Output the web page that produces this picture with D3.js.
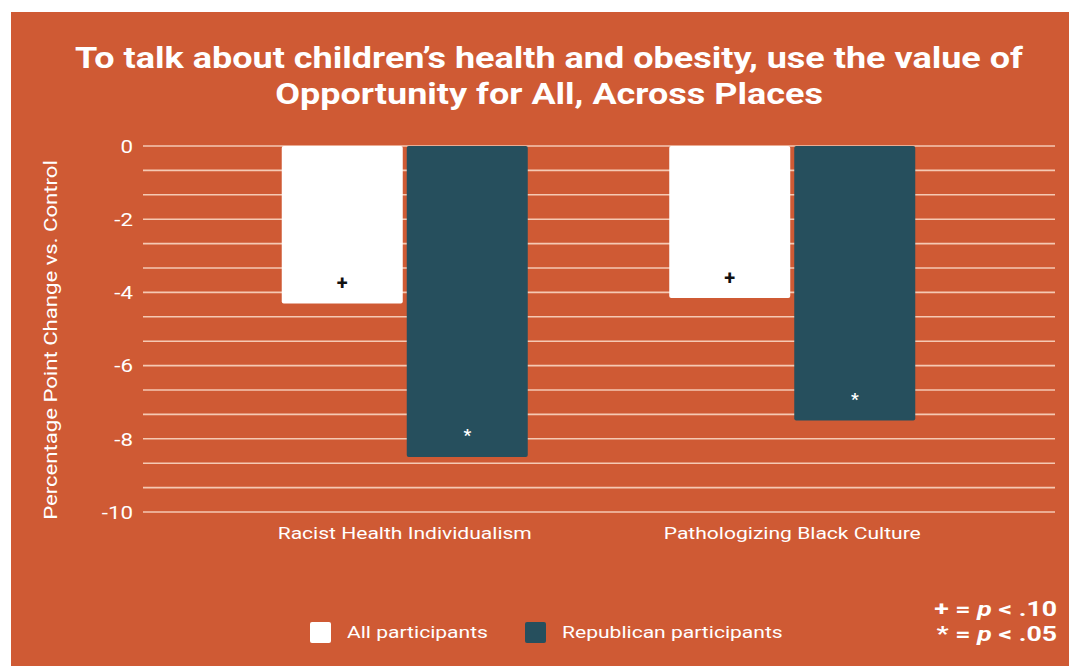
<!DOCTYPE html>
<html>
<head>
<meta charset="utf-8">
<script src="https://cdn.jsdelivr.net/npm/d3@7"></script>
<style>
  html, body { margin: 0; padding: 0; background: #ffffff; }
  svg { display: block; }
  text { font-family: Roboto, "Noto Sans", sans-serif; }
</style>
</head>
<body>
<svg id="chart" width="1069" height="666"></svg>
<script>
// Chart content
const titleLines = [
  "To talk about children\u2019s health and obesity, use the value of",
  "Opportunity for All, Across Places"
];
const categories = ["Racist Health Individualism", "Pathologizing Black Culture"];
const seriesNames = ["All participants", "Republican participants"];
const allParticipants = [-4.3, -4.15];
const republicanParticipants = [-8.5, -7.5];
const significanceMarks = [["+", "+"], ["*", "*"]];
const yTickValues = [0, -2, -4, -6, -8, -10];
const yAxisTitle = "Percentage Point Change vs. Control";
const noteLines = [["+ = ", "p", " < .10"], ["* = ", "p", " < .05"]];

const seriesValues = [allParticipants, republicanParticipants];
const colors = ["#ffffff", "#264f5d"];
const bg = "#cf5a34";
const gridColor = "#f5c9b3";
const wide = 1.24; // horizontal stretch applied to the text faces

const svg = d3.select("#chart");

// Places a text at (x, y) with a wider face, scaling about its anchor point
function placeWide(sel, x, y, k, extra) {
  sel.attr("x", 0).attr("y", 0)
    .attr("transform", `translate(${x},${y})${extra || ""} scale(${k},1)`);
  return sel;
}

// Panel background
svg.append("rect")
  .attr("x", 11).attr("y", 12)
  .attr("width", 1058).attr("height", 654)
  .attr("fill", bg);

// Title
titleLines.forEach((line, i) => {
  svg.append("text")
    .attr("text-anchor", "middle")
    .attr("fill", "#ffffff")
    .attr("font-size", 30)
    .attr("font-weight", 700)
    .text(line)
    .call(placeWide, 549, 68 + i * 36, 1.2);
});

// Scales
const y = d3.scaleLinear().domain([-10, 0]).range([512, 146]);
const x0 = d3.scaleBand().domain(categories).range([211, 986]);
const x1 = d3.scaleBand().domain(seriesNames)
  .range([0, x0.bandwidth()])
  .paddingInner(0.032).paddingOuter(0.566);

// Gridlines: major every 2, two minor lines in between
const gridValues = d3.range(0, 16).map(i => -i * 2 / 3);
svg.append("g")
  .selectAll("line")
  .data(gridValues)
  .join("line")
  .attr("x1", 143).attr("x2", 1055)
  .attr("y1", d => y(d)).attr("y2", d => y(d))
  .attr("stroke", gridColor)
  .attr("stroke-width", 1.6);

// Y axis labels
const yAxis = d3.axisLeft(y).tickValues(yTickValues).tickSize(0).tickPadding(0)
  .tickFormat(d => String(d));
const yg = svg.append("g").attr("transform", "translate(133,0)").call(yAxis);
yg.select(".domain").remove();
yg.selectAll("text")
  .attr("fill", "#ffffff")
  .attr("font-size", 18)
  .attr("font-family", "Roboto, sans-serif")
  .attr("x", 0)
  .attr("dy", "0.35em")
  .attr("transform", `scale(${wide},1)`);

// Y axis title
svg.append("text")
  .attr("text-anchor", "middle")
  .attr("fill", "#ffffff")
  .attr("font-size", 18)
  .text(yAxisTitle)
  .call(placeWide, 57, 340, 1.23, " rotate(-90)");

// Bars
const groups = svg.append("g")
  .selectAll("g")
  .data(categories)
  .join("g")
  .attr("transform", d => `translate(${x0(d)},0)`);

groups.selectAll("rect")
  .data((c, ci) => seriesNames.map((s, si) => ({ s, si, v: seriesValues[si][ci] })))
  .join("rect")
  .attr("x", d => x1(d.s))
  .attr("y", d => y(0))
  .attr("width", x1.bandwidth())
  .attr("height", d => y(d.v) - y(0))
  .attr("rx", 2)
  .attr("fill", d => colors[d.si]);

// Significance markers near the bar ends
groups.selectAll("text.mark")
  .data((c, ci) => seriesNames.map((s, si) => ({ s, si, v: seriesValues[si][ci], m: significanceMarks[si][ci] })))
  .join("text")
  .attr("class", "mark")
  .attr("x", d => x1(d.s) + x1.bandwidth() / 2)
  .attr("y", d => y(d.v) - (d.si === 0 ? 13 : 16))
  .attr("text-anchor", "middle")
  .attr("font-size", d => d.si === 0 ? 20 : 17)
  .attr("font-weight", 700)
  .attr("fill", d => d.si === 0 ? "#111111" : "#ffffff")
  .text(d => d.m);

// Category labels
svg.append("g")
  .selectAll("text")
  .data(categories)
  .join("text")
  .attr("text-anchor", "middle")
  .attr("fill", "#ffffff")
  .attr("font-size", 17)
  .text(d => d)
  .each(function (d) {
    d3.select(this).call(placeWide, x0(d) + x0.bandwidth() / 2, 539, wide);
  });

// Legend
const legendItems = [
  { name: seriesNames[0], color: colors[0], x: 310 },
  { name: seriesNames[1], color: colors[1], x: 525 }
];
const lg = svg.append("g").selectAll("g").data(legendItems).join("g")
  .attr("transform", d => `translate(${d.x},622)`);
lg.append("rect")
  .attr("width", 21).attr("height", 21).attr("rx", 2)
  .attr("fill", d => d.color);
lg.append("text")
  .attr("fill", "#ffffff")
  .attr("font-size", 17)
  .text(d => d.name)
  .call(placeWide, 37, 16, wide);

// Significance note
const note = svg.append("g");
noteLines.forEach((parts, i) => {
  const t = note.append("text")
    .attr("text-anchor", "end")
    .attr("fill", "#ffffff")
    .attr("font-family", "'Liberation Sans', Arial, sans-serif")
    .attr("font-size", 21)
    .attr("font-weight", 700)
    .call(placeWide, 1057, 616 + i * 25, 1.27);
  parts.forEach((p, j) => {
    t.append("tspan")
      .attr("font-style", j === 1 ? "italic" : "normal")
      .text(p);
  });
});
</script>
</body>
</html>
